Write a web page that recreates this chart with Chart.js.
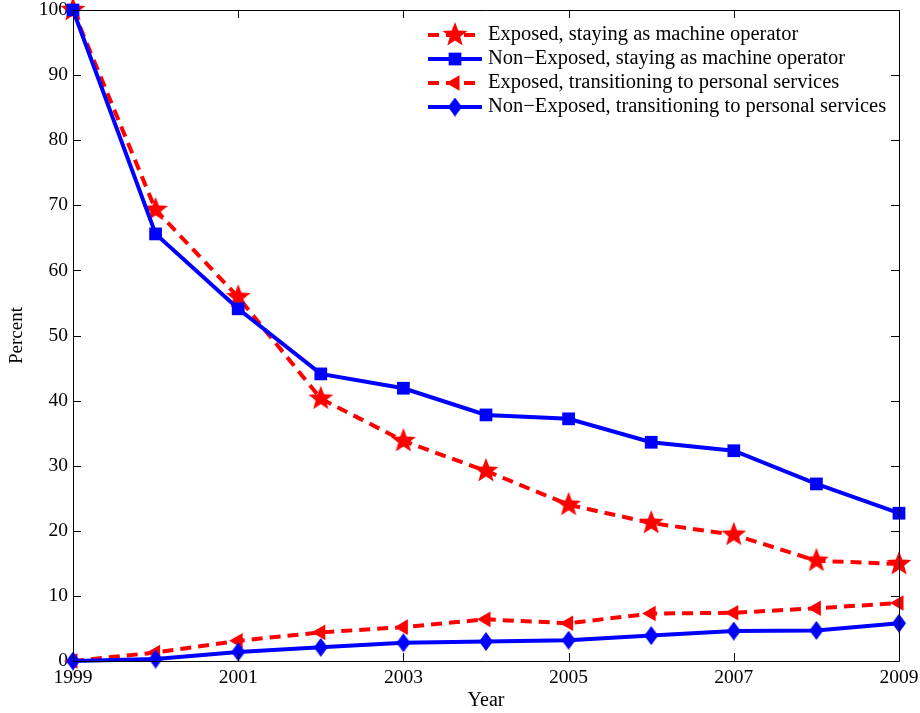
<!DOCTYPE html>
<html>
<head>
<meta charset="utf-8">
<script src="https://cdn.jsdelivr.net/npm/chart.js@4.4.1/dist/chart.umd.min.js"></script>
<style>
  html, body { margin: 0; padding: 0; background: #fff; }
  #wrap { width: 920px; height: 713px; }
</style>
</head>
<body>
<div id="wrap"><canvas id="myChart"></canvas></div>
<script>
// data
const years = [1999, 2000, 2001, 2002, 2003, 2004, 2005, 2006, 2007, 2008, 2009];
const exposedStay = [100, 69.3, 55.9, 40.3, 33.8, 29.2, 24.0, 21.2, 19.4, 15.4, 14.9];
const nonExposedStay = [100, 65.6, 54.1, 44.1, 41.9, 37.8, 37.2, 33.6, 32.3, 27.2, 22.7];
const exposedTrans = [0, 1.3, 3.1, 4.4, 5.2, 6.4, 5.8, 7.3, 7.4, 8.1, 8.9];
const nonExposedTrans = [0, 0.3, 1.4, 2.1, 2.8, 3.0, 3.2, 3.9, 4.6, 4.7, 5.8];
const xTicks = [1999, 2001, 2003, 2005, 2007, 2009];
const yTicks = [0, 10, 20, 30, 40, 50, 60, 70, 80, 90, 100];
const labels = [
    "Exposed, staying as machine operator",
    "Non\u2212Exposed, staying as machine operator",
    "Exposed, transitioning to personal services",
    "Non\u2212Exposed, transitioning to personal services"
];

const RED = "#ff0000";
const BLUE = "#0000ff";
const FONT = "'Liberation Serif', 'DejaVu Serif', serif";

// filled star marker
function makeStar(r, color){
    const c = document.createElement("canvas");
    c.width = 2*r+2; c.height = 2*r+2;
    const g = c.getContext("2d");
    g.translate(r+1, r+1);
    g.beginPath();
    for(let i=0; i<10; i++){
        const rad = (i%2===0) ? r : r*0.42;
        const a = -Math.PI/2 + i*Math.PI/5;
        if(i===0) g.moveTo(rad*Math.cos(a), rad*Math.sin(a));
        else g.lineTo(rad*Math.cos(a), rad*Math.sin(a));
    }
    g.closePath();
    g.fillStyle = color;
    g.fill();
    return c;
}
// tall diamond marker
function makeDiamond(w, h, color){
    const c = document.createElement("canvas");
    c.width = w; c.height = h;
    const g = c.getContext("2d");
    g.beginPath();
    g.moveTo(w/2, 0); g.lineTo(w, h/2); g.lineTo(w/2, h); g.lineTo(0, h/2);
    g.closePath();
    g.fillStyle = color;
    g.fill();
    return c;
}
const starImg = makeStar(13, RED);
const diamondImg = makeDiamond(14, 19, BLUE);

function pts(vals){
    return years.map((y, i) => ({x: y, y: vals[i]}));
}

const datasets = [
    {label: labels[0], data: pts(exposedStay), borderColor: RED, backgroundColor: RED,
     borderDash: [11, 7], pointStyle: starImg, order: 3},
    {label: labels[1], data: pts(nonExposedStay), borderColor: BLUE, backgroundColor: BLUE,
     pointStyle: "rect", pointRadius: 9, order: 2},
    {label: labels[2], data: pts(exposedTrans), borderColor: RED, backgroundColor: RED,
     borderDash: [11, 7], pointStyle: "triangle", pointRotation: -90, pointRadius: 9, order: 1},
    {label: labels[3], data: pts(nonExposedTrans), borderColor: BLUE, backgroundColor: BLUE,
     pointStyle: diamondImg, order: 0}
];
datasets.forEach(d => {
    d.borderWidth = 4;
    d.pointBorderWidth = 0;
    d.pointBorderColor = d.borderColor;
    d.tension = 0;
    d.clip = false;
    d.fill = false;
});

// box with inward ticks, matlab style
const boxPlugin = {
    id: "box",
    afterDatasetsDraw(chart){
        const {ctx, chartArea: a, scales} = chart;
        ctx.save();
        ctx.strokeStyle = "#000";
        ctx.lineWidth = 1;
        ctx.beginPath();
        ctx.rect(a.left+0.5, a.top+0.5, a.right-a.left, a.bottom-a.top);
        const len = 8;
        xTicks.forEach(t => {
            const x = Math.round(scales.x.getPixelForValue(t))+0.5;
            ctx.moveTo(x, a.bottom); ctx.lineTo(x, a.bottom-len);
            ctx.moveTo(x, a.top); ctx.lineTo(x, a.top+len);
        });
        yTicks.forEach(t => {
            const y = Math.round(scales.y.getPixelForValue(t))+0.5;
            ctx.moveTo(a.left, y); ctx.lineTo(a.left+len, y);
            ctx.moveTo(a.right, y); ctx.lineTo(a.right-len, y);
        });
        ctx.stroke();
        ctx.restore();
    },
    afterDraw(chart){
        // legend drawn on top of everything
        const ctx = chart.ctx;
        const x0 = 428, x1 = 482, tx = 488;
        const rowY = [35, 59, 83, 107];
        ctx.save();
        chart.data.datasets.forEach((d, i) => {
            const y = rowY[i];
            ctx.strokeStyle = d.borderColor;
            ctx.lineWidth = 4;
            ctx.setLineDash(d.borderDash || []);
            ctx.beginPath();
            ctx.moveTo(x0, y); ctx.lineTo(x1, y);
            ctx.stroke();
            ctx.setLineDash([]);
            ctx.fillStyle = d.backgroundColor;
            Chart.helpers.drawPoint(ctx, {
                pointStyle: d.pointStyle,
                radius: d.pointRadius || 9,
                rotation: d.pointRotation || 0,
                borderWidth: 0
            }, (x0+x1)/2, y);
            ctx.fillStyle = "#000";
            ctx.font = "20.5px " + FONT;
            ctx.textBaseline = "middle";
            ctx.textAlign = "left";
            ctx.fillText(d.label, tx, y);
        });
        ctx.restore();
    }
};

const ctx = document.getElementById("myChart").getContext("2d");
window.myChart = new Chart(ctx, {
    type: "line",
    data: {datasets: datasets},
    options: {
        responsive: true,
        maintainAspectRatio: false,
        animation: false,
        layout: {padding: {left: 6, top: 10, right: 21, bottom: 0}},
        plugins: {
            legend: {display: false},
            tooltip: {enabled: false}
        },
        scales: {
            x: {
                type: "linear",
                min: 1999,
                max: 2009,
                grid: {display: false, drawTicks: false},
                border: {display: false},
                ticks: {
                    stepSize: 2,
                    padding: 5,
                    color: "#000",
                    font: {family: FONT, size: 19.5},
                    maxRotation: 0,
                    callback: v => String(v)
                },
                title: {
                    display: true,
                    text: "Year",
                    color: "#000",
                    font: {family: FONT, size: 20},
                    padding: {top: 1, bottom: 0}
                },
                afterFit: s => { s.height = 52; s.paddingRight = 0; s.paddingLeft = 0; }
            },
            y: {
                min: 0,
                max: 100,
                grid: {display: false, drawTicks: false},
                border: {display: false},
                ticks: {
                    stepSize: 10,
                    padding: 5,
                    color: "#000",
                    font: {family: FONT, size: 19.5}
                },
                title: {
                    display: true,
                    text: "Percent",
                    color: "#000",
                    font: {family: FONT, size: 19},
                    padding: {top: 0, bottom: 0}
                },
                afterFit: s => { s.width = 67; s.paddingTop = 0; s.paddingBottom = 0; }
            }
        }
    },
    plugins: [boxPlugin]
});
</script>
</body>
</html>
